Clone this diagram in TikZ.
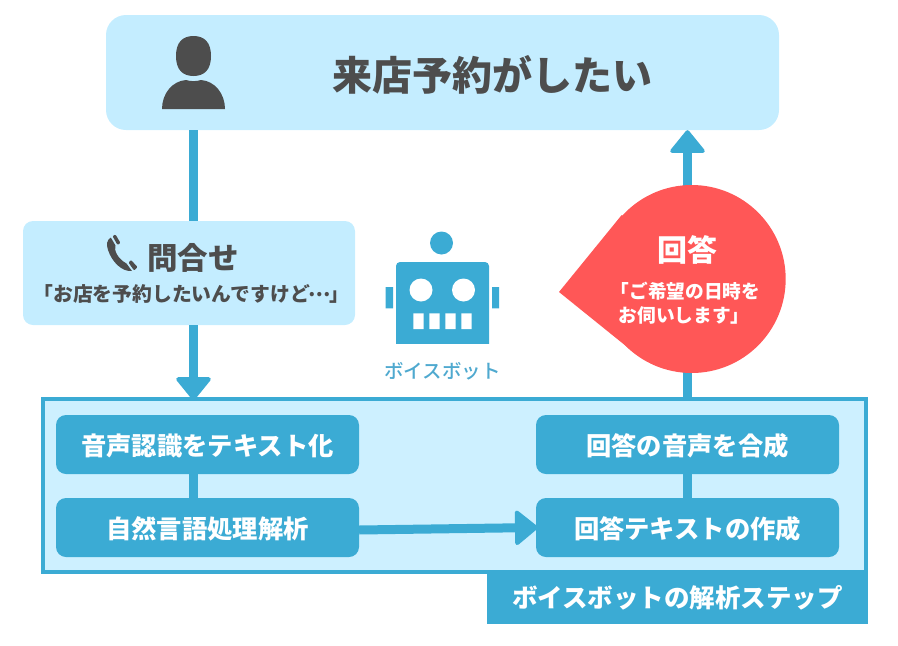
\documentclass[tikz,border=0pt]{standalone}
\usepackage{fontspec}
\usetikzlibrary{arrows.meta}
\setmainfont{Noto Sans CJK JP}
\newfontfamily\jpmedium{Noto Sans CJK JP Medium}
\definecolor{paleblue}{HTML}{C4EDFF}
\definecolor{framefill}{HTML}{CDF0FF}
\definecolor{midblue}{HTML}{3BABD4}
\definecolor{darktext}{HTML}{4D4D4D}
\definecolor{redbubble}{HTML}{FF5757}
\definecolor{botlabel}{HTML}{4FA9CF}
\tikzset{
  panel/.style={fill=paleblue,rounded corners=#1,inner sep=0pt},
  stepbox/.style={fill=midblue,rounded corners=10pt,minimum width=303pt,minimum height=59pt,inner sep=0pt,text=white,text height=22pt,text depth=0.6pt,font=\fontsize{25.3}{26}\selectfont\bfseries},
  link/.style={draw=midblue,line width=9pt},
  flow/.style={link,-{Triangle[round,line width=4pt,length=24pt,width=38pt]}},
  icon/.style={fill=darktext},
  botpart/.style={fill=midblue},
}
\begin{document}
\begin{tikzpicture}[x=1pt,y=-1pt]
\useasboundingbox (0,0) rectangle (898,646);
% step frame
\node[draw=midblue,line width=4pt,fill=framefill,minimum width=823pt,minimum height=173pt,inner sep=0pt] (frame) at (454.5,485.5) {};
\node[fill=midblue,minimum width=381pt,minimum height=50pt,inner sep=0pt,text=white,text height=20pt,text depth=3.6pt,font=\fontsize{25.5}{26}\selectfont\bfseries] (tag) at (677.5,599) {ボイスボットの解析ステップ};
% top
\node[panel=20pt,minimum width=673pt,minimum height=115pt] (top) at (442.5,72.5) {};
\node[text=darktext,font=\fontsize{40}{40}\selectfont\bfseries,inner sep=0pt] (want) at (492,75) {来店予約がしたい};
\node[inner sep=0pt,minimum width=63pt,minimum height=73pt] (person) at (193.5,72.5) {};
\fill[icon] (193.5,36) .. controls (205,36) and (211,43) .. (211,56) .. controls (211,69) and (205,76) .. (193.5,76) .. controls (182,76) and (176,69) .. (176,56) .. controls (176,43) and (182,36) .. (193.5,36) -- cycle;
\fill[icon] (162,109) .. controls (162,94) and (172,81) .. (186,80) .. controls (190,81.5) and (197,81.5) .. (201,80) .. controls (215,81) and (225,94) .. (225,109) -- cycle;
% call
\node[panel=10pt,minimum width=332pt,minimum height=104pt] (call) at (189,273) {};
\node[text=darktext,font=\fontsize{30.5}{31}\selectfont\bfseries,inner sep=0pt] (ask) at (193,258) {問合せ};
\node[text=darktext,font=\fontsize{19.8}{20}\selectfont\bfseries,inner sep=0pt] (askline) at (191.5,294) {「お店を予約したいんですけど\makebox[19.8pt]{\raisebox{5pt}{…}}」};
\fill[icon,rounded corners=1pt] (112.5,236) -- (115.5,234.5) -- (120.5,243) -- (117.5,245) -- cycle;
\fill[icon,rounded corners=1pt] (128.5,262.5) -- (131,260) -- (137.5,267) -- (134,270.5) -- cycle;
\fill[icon] (110.8,237.5) -- (115.5,245.5) .. controls (113.5,250) and (118,259) .. (126.5,263.5) -- (132,271) .. controls (122,272) and (112,262) .. (108,250) .. controls (106,244) and (107,240) .. (110.8,237.5) -- cycle;
% bot
\node[inner sep=0pt,minimum width=114pt,minimum height=101pt] (bot) at (442,293.5) {};
\fill[botpart] (441.5,243) circle[radius=11.5];
\fill[botpart,rounded corners=4pt] (396,350) -- (396,262) -- (489,262) -- (489,350) -- cycle;
\fill[white] (394,344) rectangle (491,352);
\fill[white] (421,290) circle[radius=11.5] (463.5,290) circle[radius=11.5];
\fill[white] (413.3,313.3) rectangle (423.7,329) (429.3,313.3) rectangle (439.7,329) (445.3,313.3) rectangle (455.7,329) (461.3,313.3) rectangle (471.7,329);
\fill[botpart] (385.7,287) rectangle (393,308.3) (492,287) rectangle (499,308.3);
\node[text=botlabel,font=\fontsize{19.5}{20}\selectfont\jpmedium,inner sep=0pt] (botname) at (442.5,371) {ボイスボット};
% steps
\node[stepbox] (asr) at (207.5,444.5) {音声認識をテキスト化};
\node[stepbox] (nlp) at (207.5,527.5) {自然言語処理解析};
\node[stepbox] (tts) at (687.5,444.5) {回答の音声を合成};
\node[stepbox] (gen) at (687.5,527.5) {回答テキストの作成};
% connectors
\draw[link] (person |- top.south) -- (person |- call.north);
\draw[flow] (person |- call.south) -- ([yshift=-3pt]person |- frame.north);
\draw[link] (asr.south -| person) -- (nlp.north -| person);
\draw[link] (tts) -- (gen);
\draw[flow] ([yshift=-2.5pt]nlp.east) -- ([xshift=2pt]gen.west);
\draw[flow] (tts |- frame.north) -- (tts |- top.south);
% bubble
\fill[redbubble] (691.7,279) circle[radius=94];
\fill[redbubble] (559,292) -- (621.7,215) -- (691.7,279) -- (633,351.7) -- cycle;
\node[text=white,font=\fontsize{30}{30}\selectfont\bfseries,inner sep=0pt] (ans) at (687,250) {回答};
\node[text=white,font=\fontsize{18.7}{24}\selectfont\bfseries,inner sep=0pt,align=left,anchor=west] (ansline) at (618.5,303) {\hspace*{-8pt}「ご希望の日時を\\お伺いします」};
\end{tikzpicture}
\end{document}
